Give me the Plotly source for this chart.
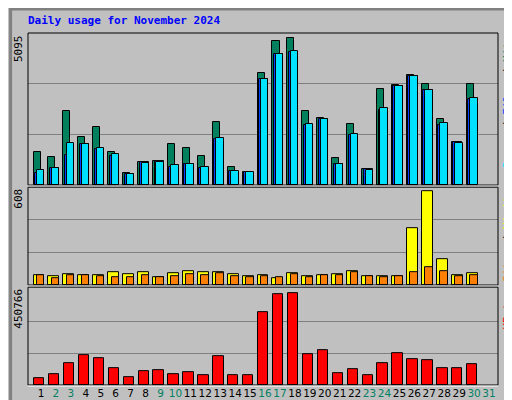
import plotly.graph_objects as go

days = list(range(1, 31))
weekend = [2, 3, 9, 10, 16, 17, 23, 24, 30, 31]

hits = [1117, 950, 2491, 1620, 1955, 1117, 413, 782, 815, 1385, 1251, 983, 2122, 614, 447,
        3765, 4837, 4938, 2491, 2257, 916, 2055, 547, 3228, 3351, 3697, 3396, 2223, 1452, 3396]
files = [391, 581, 994, 1363, 1195, 972, 380, 782, 804, 592, 715, 559, 1553, 480, 436,
         3541, 4401, 4468, 2000, 2223, 715, 1687, 536, 2502, 3306, 3664, 3172, 2022, 1430, 2893]
pages = [514, 581, 1419, 1385, 1251, 1050, 369, 748, 782, 659, 715, 614, 1586, 480, 447,
         3563, 4401, 4502, 2055, 2223, 715, 1720, 514, 2592, 3329, 3664, 3195, 2089, 1419, 2927]
visits = [63, 57, 70, 63, 63, 82, 70, 82, 51, 76, 89, 82, 82, 70, 57,
          63, 44, 76, 57, 63, 70, 89, 57, 57, 57, 354, 585, 158, 63, 76]
sites = [63, 44, 63, 63, 57, 51, 51, 63, 51, 57, 70, 63, 76, 57, 51,
         57, 51, 70, 51, 63, 63, 82, 57, 51, 57, 82, 108, 89, 57, 63]
kbytes = [30760, 49200, 104600, 141500, 127700, 81500, 35400, 63000, 67700, 49200, 58400, 44600, 136900, 44600, 44600,
          340000, 427600, 432200, 146100, 164600, 53800, 72300, 44600, 104600, 150700, 123000, 118400, 81500, 81500, 100000]
max_hits, max_visits, max_kb = 5095, 608, 450766

fig = go.Figure()

def bars(y, color, offset, width, axis):
    fig.add_trace(go.Bar(x=days, y=y, marker=dict(color=color, line=dict(color="black", width=1)),
                         offset=offset, width=width, xaxis="x", yaxis=axis, showlegend=False))

bars(hits, "#00805C", -0.5, 0.47, "y")
bars(files, "#0040FF", -0.4, 0.62, "y")
bars(pages, "#00E0FF", -0.27, 0.5, "y")
bars(visits, "#FFFF00", -0.5, 0.73, "y2")
bars(sites, "#FF8000", -0.27, 0.5, "y2")
bars(kbytes, "#FF0000", -0.47, 0.69, "y3")

ticktext = [f'<span style="color:{"#008060" if d in weekend else "black"}">{d}</span>' for d in range(1, 32)]

grid = dict(showticklabels=False, ticks="", gridcolor="#808080", gridwidth=1, zeroline=False,
            fixedrange=True, automargin=False)
fig.update_layout(
    width=512, height=400, barmode="overlay", bargap=0,
    margin=dict(l=20, r=22, t=25, b=23, autoexpand=False),
    paper_bgcolor="#C0C0C0", plot_bgcolor="#C0C0C0",
    font=dict(family="DejaVu Sans Mono", size=11, color="black"),
    xaxis=dict(range=[0.13, 31.6], tickvals=list(range(1, 32)), ticktext=ticktext, ticks="",
               tickangle=0, tickfont=dict(size=10.5, family="DejaVu Sans"),
               showgrid=False, zeroline=False, anchor="y3", automargin=False),
    yaxis=dict(domain=[0.568, 1], range=[0, max_hits], tickvals=[max_hits / 3, 2 * max_hits / 3], **grid),
    yaxis2=dict(domain=[0.284, 0.562], range=[0, max_visits], tickvals=[max_visits / 3, 2 * max_visits / 3], **grid),
    yaxis3=dict(domain=[0, 0.278], range=[0, max_kb * 1.02], tickvals=[max_kb / 3, 2 * max_kb / 3], **grid),
)

# panel frames
for y0, y1 in [(0.568, 1), (0.284, 0.562), (0, 0.278)]:
    fig.add_shape(type="rect", xref="paper", yref="paper", x0=0, x1=1, y0=y0, y1=y1,
                  line=dict(color="black", width=1))
    fig.add_shape(type="line", xref="paper", yref="paper", x0=0, x1=1, y0=y0 - 0.003, y1=y0 - 0.003,
                  line=dict(color="white", width=1))
# outer bevel
fig.add_shape(type="rect", xref="paper", yref="paper", x0=-0.037, x1=1.04, y0=-0.062, y1=1.068,
              line=dict(color="#808080", width=3))

fig.add_annotation(xref="paper", yref="paper", x=-0.005, y=1.01, xanchor="left", yanchor="bottom",
                   text="<b>Daily usage for November 2024</b>", showarrow=False,
                   font=dict(color="#0000FF", size=11, family="DejaVu Sans Mono"))
for y, txt in [(1, "5095"), (0.562, "608"), (0.278, "450766")]:
    fig.add_annotation(xref="paper", yref="paper", x=-0.002, y=y, xanchor="right", yanchor="top",
                       text=txt, textangle=-90, showarrow=False, font=dict(size=11))
right = [
    (1, '<span style="color:#00E0FF">Pages</span> / <span style="color:#0040FF">Files</span> / <span style="color:#00805C">Hits</span>'),
    (0.562, '<span style="color:#FF8000">Sites</span> / <span style="color:#FFFF00">Visits</span>'),
    (0.278, '<span style="color:#FF0000">KBytes</span>'),
]
for y, txt in right:
    fig.add_annotation(xref="paper", yref="paper", x=1.002, y=y, xanchor="left", yanchor="top",
                       text=txt, textangle=-90, showarrow=False, font=dict(size=11, color="black"))

fig.write_html("out.html")
